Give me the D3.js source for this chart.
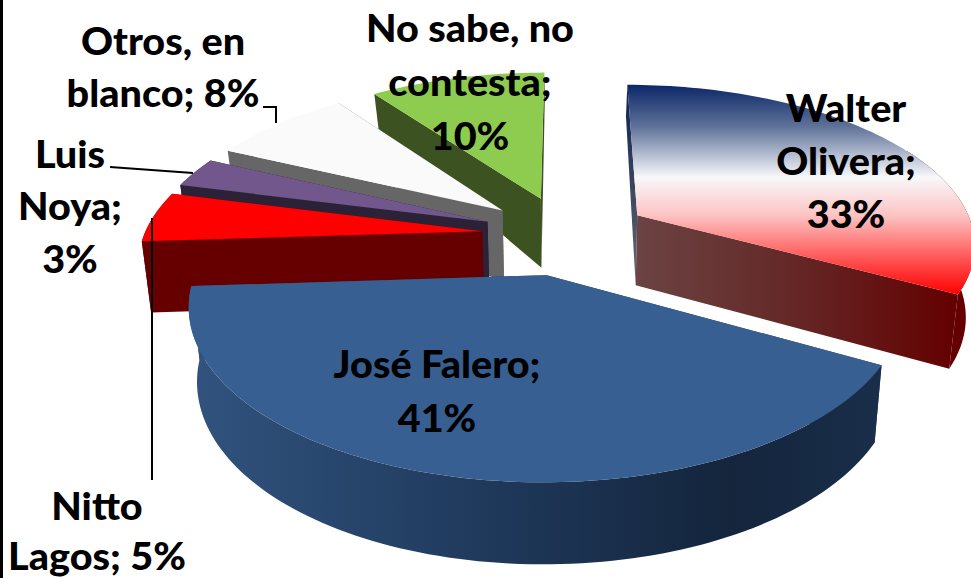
<!DOCTYPE html>
<html><head><meta charset="utf-8">
<script src="https://cdn.jsdelivr.net/npm/d3@7"></script>
<style>html,body{margin:0;padding:0;background:#fff;overflow:hidden}svg{display:block}
text{font-family:Lato,"Noto Sans",sans-serif;font-weight:900;fill:#000;text-anchor:middle}</style>
</head><body><svg id="c" width="971" height="578"></svg>
<script>
const categories = ["Walter Olivera","José Falero","Nitto Lagos","Luis Noya","Otros, en blanco","No sabe, no contesta"];
const shares = [33,41,5,3,8,10];
const labelLines = [["Walter","Olivera;","33%"],["José Falero;","41%"],["Nitto","Lagos; 5%"],["Luis","Noya;","3%"],["Otros, en","blanco; 8%"],["No sabe, no","contesta;","10%"]];

// layout and style
const topFills = ["url(#wTop)","#375f91","#ff0000","#71578b","#fafafa","#8ecc50"];
const edgeFills = ["#64403f","#2a4467","#660000","#2c2238","#666666","#3c5220"];
const rimFills = ["#640000","url(#jWall)","#660000","#2c2238","#666666","#3c5220"];
const labelPos = [[846,122,53],[437,378,54],[97,520,50],[70,168,52.5],[163,55,52],[470,42,54]];
const cx=566, cy=235, f=338, a=158, k=0.165, explode=0.25, shrink=0.022, rimLimit=0.6;
const wallH = d3.scaleLinear().domain([-1.24,0,0.24,1.05]).range([82,71,69,35]);

const svg=d3.select("#c");
const defs=svg.append("defs");
function grad(id,horizontal,stops){
  const g=defs.append("linearGradient").attr("id",id).attr("x1",0).attr("y1",0)
    .attr("x2",horizontal?1:0).attr("y2",horizontal?0:1);
  stops.forEach(s=>g.append("stop").attr("offset",s[0]).attr("stop-color",s[1]));
}
grad("wTop",false,[[0,"#0c2768"],[.2,"#5f7299"],[.44,"#f7f8fb"],[.62,"#fdc4c4"],[.85,"#ff4a4a"],[1,"#ff0000"]]);
grad("wEdge",true,[[0,"#6b4443"],[.5,"#642726"],[1,"#640000"]]);
grad("wStart",false,[[0,"#0c2050"],[1,"#666a70"]]);
grad("jWall",true,[[0,"#31537e"],[.4,"#203b5e"],[.78,"#14253c"],[1,"#1a2e4a"]]);

const arcs=d3.pie().sort(null).value(d=>d).startAngle(0).endAngle(2*Math.PI)(shares);
function project(X,D){const s=1/(1+k*D);return [cx+f*X*s,cy-a*D*s];}
function makePoint(mid){
  const ox=explode*Math.sin(mid),oy=explode*Math.cos(mid);
  return (r,t)=>{
    const X=r*Math.sin(t)+ox,D=r*Math.cos(t)+oy;
    const p=project(X,D);
    const h=wallH(D);
    return {top:p,bot:[cx+(p[0]-cx)*(1-shrink),p[1]+h],D};
  };
}
const line=d3.line();
const order=[5,4,3,2,0,1];
order.forEach(i=>{
  const d=arcs[i],mid=(d.startAngle+d.endAngle)/2,pt=makePoint(mid);
  const n=Math.max(8,Math.round((d.endAngle-d.startAngle)*40));
  const ts=d3.range(n+1).map(j=>d.startAngle+(d.endAngle-d.startAngle)*j/n);
  const apex=pt(0,0),rim=ts.map(t=>pt(1,t));
  const g=svg.append("g").attr("class","slice").attr("data-name",categories[i]);
  const startFill=i===0?"url(#wStart)":edgeFills[i];
  const endFill=i===0?"url(#wEdge)":edgeFills[i];
  const quad=(A,B,fill)=>g.append("path").attr("d",line([A.top,B.top,B.bot,A.bot])+"Z").attr("fill",fill);
  quad(apex,rim[0],startFill);
  quad(apex,rim[n],endFill);
  const front=rim.filter(p=>p.D<rimLimit);
  if(front.length>1) g.append("path").attr("d",line(front.map(p=>p.top).concat(front.map(p=>p.bot).reverse()))+"Z").attr("fill",rimFills[i]);
  g.append("path").attr("d",line([apex.top].concat(rim.map(p=>p.top)))+"Z").attr("fill",topFills[i]);
});

// leader lines
const leaders=[[[263,107],[276,107],[276,123]],[[110,167],[193,173]],[[152,218],[152,480]]];
svg.selectAll("path.leader").data(leaders).join("path").attr("class","leader")
  .attr("d",d=>line(d)).attr("fill","none").attr("stroke","#000").attr("stroke-width",2);

// labels
labelLines.forEach((ls,i)=>{
  const [x,y,lh]=labelPos[i];
  const t=svg.append("text").attr("font-size",37).attr("transform",`translate(${x},0) scale(1.07,1)`);
  ls.forEach((s,j)=>t.append("tspan").attr("x",0).attr("y",y+j*lh).text(s));
});
// left border
svg.append("rect").attr("x",0).attr("y",0).attr("width",3).attr("height",578).attr("fill","#000");
</script></body></html>
